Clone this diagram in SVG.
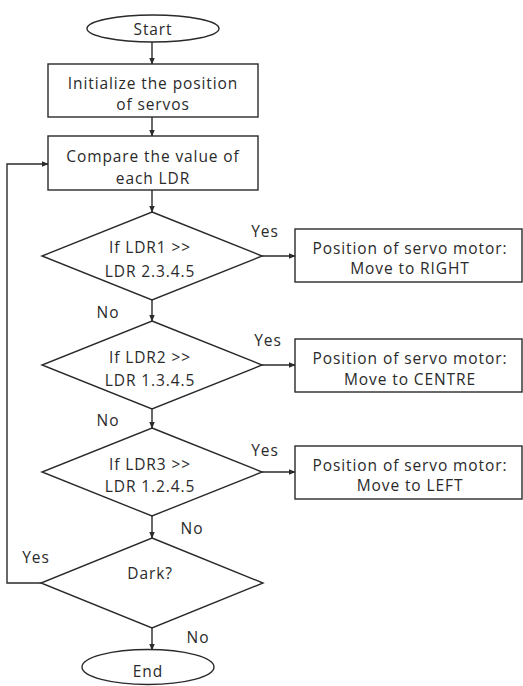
<svg xmlns="http://www.w3.org/2000/svg" width="523" height="686" viewBox="0 0 523 686">
<defs>
<style>
.s{fill:#fff;stroke:#2a2a2a;stroke-width:1.4}
.c{fill:none;stroke:#2a2a2a;stroke-width:1.4}
text{font-family:"Open Sans","DejaVu Sans",sans-serif;font-size:15.5px;letter-spacing:0.9px;fill:#2a2a2a;text-anchor:middle;dominant-baseline:central}
</style>
<marker id="ar" viewBox="0 0 10 10" refX="9" refY="5" markerWidth="7" markerHeight="7" markerUnits="userSpaceOnUse" orient="auto">
<path d="M0,1 L10,5 L0,9 z" fill="#2a2a2a"/>
</marker>
</defs>
<rect width="523" height="686" fill="#fff"/>
<g id="connectors">
<line class="c" x1="152" y1="42" x2="152" y2="64" marker-end="url(#ar)"/>
<line class="c" x1="152" y1="117" x2="152" y2="136" marker-end="url(#ar)"/>
<line class="c" x1="152" y1="190" x2="152" y2="212" marker-end="url(#ar)"/>
<line class="c" x1="262" y1="256" x2="295" y2="256" marker-end="url(#ar)"/>
<line class="c" x1="152" y1="300" x2="152" y2="321" marker-end="url(#ar)"/>
<line class="c" x1="262" y1="365" x2="295" y2="365" marker-end="url(#ar)"/>
<line class="c" x1="152" y1="409" x2="152" y2="428" marker-end="url(#ar)"/>
<line class="c" x1="262" y1="472" x2="295" y2="472" marker-end="url(#ar)"/>
<line class="c" x1="152" y1="516" x2="152" y2="538" marker-end="url(#ar)"/>
<line class="c" x1="152" y1="628" x2="152" y2="650" marker-end="url(#ar)"/>
<polyline class="c" points="41,583 7,583 7,164 48,164" marker-end="url(#ar)"/>
<text x="265" y="231">Yes</text>
<text x="268" y="340">Yes</text>
<text x="265" y="450">Yes</text>
<text x="36" y="557">Yes</text>
<text x="108" y="312">No</text>
<text x="108" y="420">No</text>
<text x="192" y="528">No</text>
<text x="198" y="637">No</text>
</g>
<g id="start">
<ellipse class="s" cx="153" cy="28.5" rx="66" ry="13.5"/>
<text x="153" y="28.5">Start</text>
</g>
<g id="init">
<rect class="s" x="48" y="64" width="210" height="53"/>
<text x="153" y="83">Initialize the position</text>
<text x="153" y="104">of servos</text>
</g>
<g id="compare">
<rect class="s" x="48" y="136" width="210" height="54"/>
<text x="153" y="156">Compare the value of</text>
<text x="153" y="178">each LDR</text>
</g>
<g id="d1">
<polygon class="s" points="152,212 262,256 152,300 42,256"/>
<text x="150" y="247">If LDR1 &gt;&gt;</text>
<text x="150" y="271">LDR 2.3.4.5</text>
</g>
<g id="right">
<rect class="s" x="295" y="229" width="227" height="53"/>
<text x="410" y="248">Position of servo motor:</text>
<text x="410" y="268">Move to RIGHT</text>
</g>
<g id="d2">
<polygon class="s" points="152,321 262,365 152,409 42,365"/>
<text x="150" y="357">If LDR2 &gt;&gt;</text>
<text x="150" y="380">LDR 1.3.4.5</text>
</g>
<g id="centre">
<rect class="s" x="295" y="339" width="227" height="53"/>
<text x="410" y="358">Position of servo motor:</text>
<text x="410" y="379">Move to CENTRE</text>
</g>
<g id="d3">
<polygon class="s" points="152,428 262,472 152,516 42,472"/>
<text x="150" y="464">If LDR3 &gt;&gt;</text>
<text x="150" y="486">LDR 1.2.4.5</text>
</g>
<g id="left">
<rect class="s" x="295" y="446" width="227" height="53"/>
<text x="410" y="465">Position of servo motor:</text>
<text x="410" y="485">Move to LEFT</text>
</g>
<g id="dark">
<polygon class="s" points="152,538 263,583 152,628 41,583"/>
<text x="150" y="573">Dark?</text>
</g>
<g id="end">
<ellipse class="s" cx="148" cy="667" rx="66" ry="17.5"/>
<text x="148" y="671">End</text>
</g>
</svg>
